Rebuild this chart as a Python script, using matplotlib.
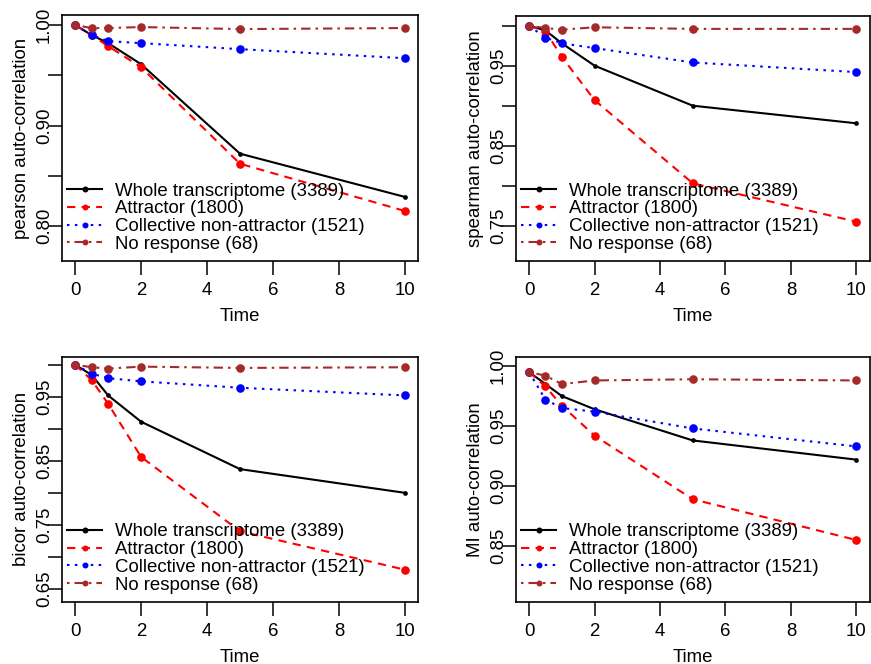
import matplotlib
matplotlib.use("Agg")
import matplotlib.pyplot as plt
from matplotlib.lines import Line2D

plt.rcParams['font.family'] = ['Liberation Sans', 'DejaVu Sans']

# Time points (hours)
time = [0, 0.5, 1, 2, 5, 10]

series_names = ["Whole transcriptome (3389)", "Attractor (1800)",
                "Collective non-attractor (1521)", "No response (68)"]

# pearson auto-correlation
pearson_whole = [1.000, 0.990, 0.982, 0.961, 0.872, 0.829]
pearson_attr = [1.000, 0.990, 0.979, 0.958, 0.862, 0.815]
pearson_coll = [1.000, 0.990, 0.984, 0.982, 0.976, 0.967]
pearson_nores = [1.000, 0.997, 0.997, 0.998, 0.996, 0.997]

# spearman auto-correlation
spearman_whole = [1.000, 0.994, 0.978, 0.950, 0.900, 0.878]
spearman_attr = [1.000, 0.993, 0.961, 0.907, 0.803, 0.755]
spearman_coll = [1.000, 0.985, 0.978, 0.972, 0.954, 0.942]
spearman_nores = [1.000, 0.997, 0.995, 0.998, 0.996, 0.996]

# bicor auto-correlation
bicor_whole = [1.000, 0.984, 0.952, 0.911, 0.837, 0.800]
bicor_attr = [1.000, 0.976, 0.939, 0.856, 0.740, 0.680]
bicor_coll = [1.000, 0.986, 0.979, 0.974, 0.964, 0.952]
bicor_nores = [1.000, 0.996, 0.994, 0.997, 0.995, 0.996]

# MI auto-correlation
mi_whole = [0.995, 0.985, 0.975, 0.964, 0.938, 0.922]
mi_attr = [0.995, 0.983, 0.967, 0.942, 0.889, 0.855]
mi_coll = [0.995, 0.972, 0.965, 0.962, 0.948, 0.933]
mi_nores = [0.995, 0.992, 0.985, 0.988, 0.989, 0.988]

y_labels = ["pearson auto-correlation", "spearman auto-correlation",
            "bicor auto-correlation", "MI auto-correlation"]

# y ticks (all) and which of them carry a label
y_ticks = [
    [0.80, 0.85, 0.90, 0.95, 1.00],
    [0.75, 0.80, 0.85, 0.90, 0.95, 1.00],
    [0.65, 0.70, 0.75, 0.80, 0.85, 0.90, 0.95, 1.00],
    [0.85, 0.90, 0.95, 1.00],
]
y_ticklabels = [
    ["0.80", "", "0.90", "", "1.00"],
    ["0.75", "", "0.85", "", "0.95", ""],
    ["0.65", "", "0.75", "", "0.85", "", "0.95", ""],
    ["0.85", "0.90", "0.95", "1.00"],
]
y_limits = [(0.7652, 1.0100), (0.7059, 1.0121), (0.630, 1.0125), (0.8036, 1.0078)]
x_ticks = [0, 2, 4, 6, 8, 10]

panels = [
    [pearson_whole, pearson_attr, pearson_coll, pearson_nores],
    [spearman_whole, spearman_attr, spearman_coll, spearman_nores],
    [bicor_whole, bicor_attr, bicor_coll, bicor_nores],
    [mi_whole, mi_attr, mi_coll, mi_nores],
]

colors = ["black", "#FF0000", "#0000FF", "#A52A2A"]
dashes = [None, (4, 3), (1.2, 2.6), (1.2, 2.4, 4.5, 2.4)]
marker_sizes = [3.4, 6.2, 6.2, 6.2]

W, H = 871, 664
# axes boxes in pixels: left, top, right, bottom
boxes = [
    (62, 15, 418, 261),
    (516, 16, 869.5, 261),
    (62, 356.7, 418, 601.7),
    (516, 356.7, 869.5, 601.7),
]

FS = 13.4
fig = plt.figure(figsize=(W / 100, H / 100), dpi=100)

for i, (box, data) in enumerate(zip(boxes, panels)):
    l, t, r, b = box
    ax = fig.add_axes([l / W, 1 - b / H, (r - l) / W, (b - t) / H])
    for s, vals in enumerate(data):
        kw = dict(color=colors[s], lw=1.5, marker='o',
                  markersize=marker_sizes[s], markeredgewidth=0)
        line, = ax.plot(time, vals, **kw)
        if dashes[s] is not None:
            line.set_dashes(dashes[s])
    ax.set_xlim(-0.4, 10.4)
    ax.set_ylim(*y_limits[i])
    ax.set_xticks(x_ticks)
    ax.set_xticklabels([str(v) for v in x_ticks])
    ax.set_yticks(y_ticks[i])
    ax.set_yticklabels(y_ticklabels[i], rotation=90, va='center')
    ax.tick_params(direction='out', length=10, width=1.1, labelsize=FS)
    ax.tick_params(axis='x', pad=5)
    ax.tick_params(axis='y', pad=-3.5)
    for sp in ax.spines.values():
        sp.set_linewidth(1.2)
    ax.set_xlabel("Time", fontsize=FS, labelpad=6.5)
    ax.set_ylabel(y_labels[i], fontsize=FS, labelpad=4.5)

    handles = []
    for s in range(4):
        h = Line2D([0], [0], color=colors[s], lw=1.5, marker='o',
                   markersize=4.3, markeredgewidth=0)
        if dashes[s] is not None:
            h.set_dashes(dashes[s])
        handles.append(h)
    ax.legend(handles, series_names, loc='lower left',
              bbox_to_anchor=(5 / (r - l), 8 / (b - t)), frameon=False,
              fontsize=FS, handlelength=1.9, handletextpad=0.7,
              labelspacing=0.04, borderpad=0, borderaxespad=0,
              numpoints=1)

fig.savefig("out.png", dpi=100)
